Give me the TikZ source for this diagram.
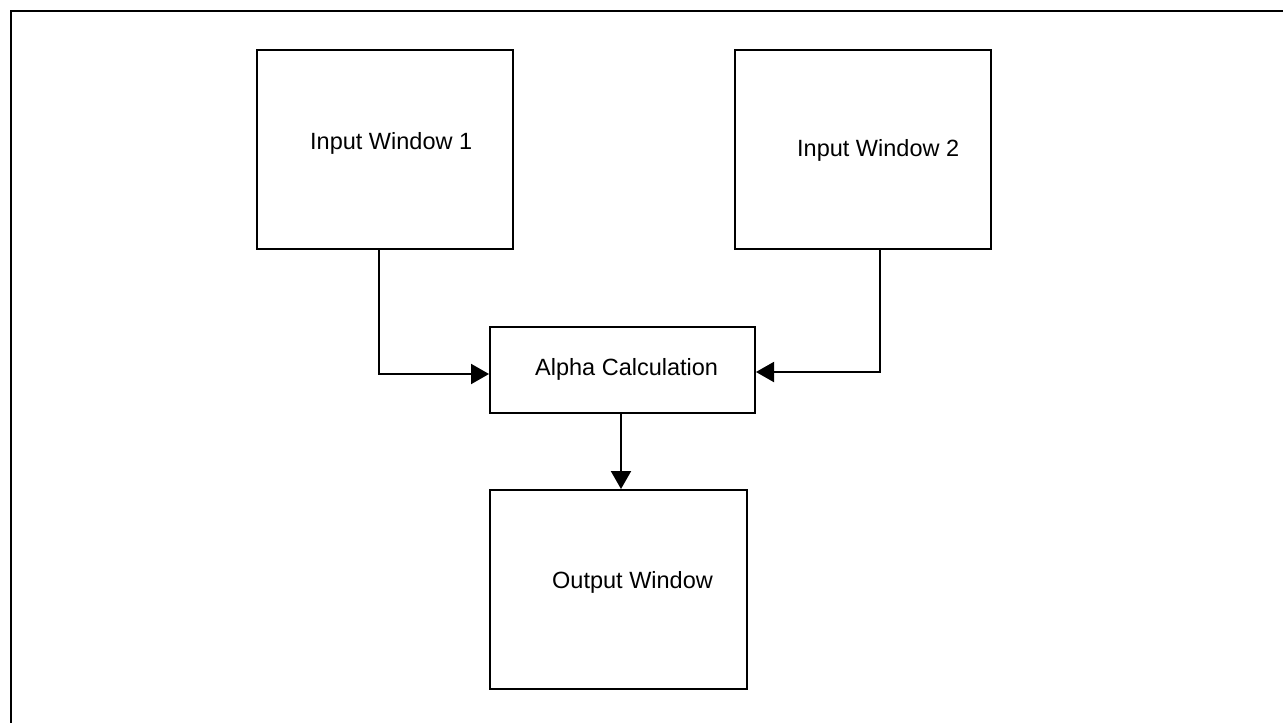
\documentclass[tikz,border=0pt]{standalone}
\usepackage{fontspec}
\setmainfont{Liberation Sans}
\usetikzlibrary{arrows.meta}
\tikzset{
  win frame/.style={draw=black, line width=2pt},
  win box/.style={draw=black, line width=2pt, rectangle, inner sep=0pt},
  win label/.style={font=\fontsize{23.5}{27}\selectfont, text=black, inner sep=0pt, anchor=base west},
  win arrow/.style={draw=black, line width=2pt, -{Triangle[length=18pt,width=20pt]}},
}

\begin{document}
\begin{tikzpicture}[x=1pt, y=-1pt]
  \useasboundingbox (0,0) rectangle (1283,723);

  % Page frame: only the top and left edges show
  \draw[win frame] (11,723) -- (11,11) -- (1283,11);

  % Windows
  \node[win box, minimum width=256pt, minimum height=199pt] (in1) at (385,149.5) {};
  \node[win box, minimum width=256pt, minimum height=199pt] (in2) at (863,149.5) {};
  \node[win box, minimum width=265pt, minimum height=86pt] (alpha) at (622.5,370) {};
  \node[win box, minimum width=257pt, minimum height=199pt] (out) at (618.5,589.5) {};

  % Texts, set off from each box's top left corner
  \node[win label] (in1 text) at ([shift={(54pt,-100pt)}]in1.north west) {Input Window 1};
  \node[win label] (in2 text) at ([shift={(63pt,-107pt)}]in2.north west) {Input Window 2};
  \node[win label] (alpha text) at ([shift={(46pt,-49pt)}]alpha.north west) {Alpha Calculation};
  \node[win label] (out text) at ([shift={(63pt,-99pt)}]out.north west) {Output Window};

  % Connectors
  \draw[win arrow] ([xshift=-6pt]in1.south) |- ([yshift=-4pt]alpha.west);
  \draw[win arrow] ([xshift=17pt]in2.south) |- ([yshift=-2pt]alpha.east);
  \draw[win arrow] ([xshift=-1.5pt]alpha.south) -- ([xshift=-1.5pt]alpha.south |- out.north);
\end{tikzpicture}
\end{document}
